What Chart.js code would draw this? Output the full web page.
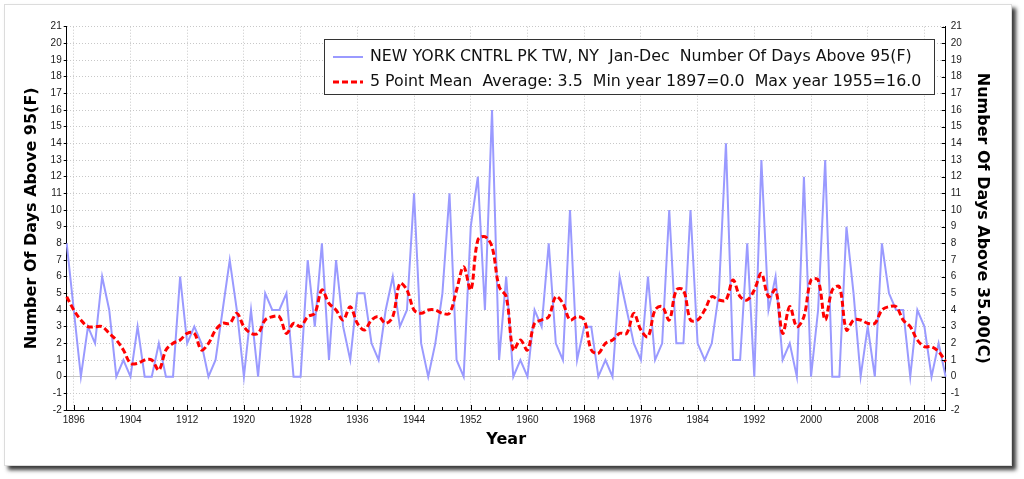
<!DOCTYPE html>
<html>
<head>
<meta charset="utf-8">
<title>NEW YORK CNTRL PK TW, NY - Days Above 95F</title>
<script src="https://cdn.jsdelivr.net/npm/chart.js@4.4.1/dist/chart.umd.min.js"></script>
<style>
  html, body { margin: 0; padding: 0; background: #fff; }
  body { width: 1024px; height: 479px; position: relative; overflow: hidden; }
  #panel {
    position: absolute; left: 4px; top: 4px; width: 1006px; height: 460px;
    background: #fff; border: 1px solid #dcdcdc;
    box-shadow: 4px 4px 4px #3a3a3a;
  }
  #wrap { position: absolute; left: 0; top: 0; width: 1024px; height: 479px; }
</style>
</head>
<body>
<div id="panel"></div>
<div id="wrap"><canvas id="chart"></canvas></div>
<script>
// data, one value per year starting at firstYear
const firstYear = 1895;

const daysAbove95 = [
  8, 4, 0, 3, 2, 6, 4, 0, 1, 0,        // 1895-1904
  3, 0, 0, 2, 0, 0, 6, 2, 3, 2,        // 1905-1914
  0, 1, 4, 7, 4, 0, 4, 0, 5, 4,        // 1915-1924
  4, 5, 0, 0, 7, 3, 8, 1, 7, 3,        // 1925-1934
  1, 5, 5, 2, 1, 4, 6, 3, 4, 11,       // 1935-1944
  2, 0, 2, 5, 11, 1, 0, 9, 12, 4,      // 1945-1954
  16, 1, 6, 0, 1, 0, 4, 3, 8, 2,       // 1955-1964
  1, 10, 1, 3, 3, 0, 1, 0, 6, 4,       // 1965-1974
  2, 1, 6, 1, 2, 10, 2, 2, 10, 2,      // 1975-1984
  1, 2, 5, 14, 1, 1, 8, 0, 13, 4,      // 1985-1994
  6, 1, 2, 0, 12, 0, 4, 13, 0, 0,      // 1995-2004
  9, 5, 0, 3, 0, 8, 5, 4, 4, 0,        // 2005-2014
  4, 3, 0, 2, 0                        // 2015-2019
];

const fivePointMean = [
  4.8, 4.0, 3.4, 3.0, 3.0, 3.0, 2.6, 2.2, 1.6, 0.8,   // 1895-1904
  0.8, 1.0, 1.0, 0.4, 1.6, 2.0, 2.2, 2.6, 2.6, 1.6,   // 1905-1914
  2.0, 2.8, 3.2, 3.2, 3.8, 3.0, 2.6, 2.6, 3.4, 3.6,   // 1915-1924
  3.6, 2.6, 3.2, 3.0, 3.6, 3.8, 5.2, 4.4, 4.0, 3.4,   // 1925-1934
  4.2, 3.2, 2.8, 3.4, 3.6, 3.2, 3.6, 5.6, 5.2, 4.0,   // 1935-1944
  3.8, 4.0, 4.0, 3.8, 3.8, 5.2, 6.6, 5.2, 8.2, 8.4,   // 1945-1954
  7.8, 5.4, 4.8, 1.6, 2.2, 1.6, 3.2, 3.4, 3.6, 4.8,   // 1955-1964
  4.4, 3.4, 3.6, 3.4, 1.6, 1.4, 2.0, 2.2, 2.6, 2.6,   // 1965-1974
  3.8, 2.8, 2.4, 4.0, 4.2, 3.4, 5.2, 5.2, 3.4, 3.4,   // 1975-1984
  4.0, 4.8, 4.6, 4.6, 5.8, 4.8, 4.6, 5.2, 6.2, 4.8,   // 1985-1994
  5.2, 2.6, 4.2, 3.0, 3.6, 5.8, 5.8, 3.4, 5.2, 5.4,   // 1995-2004
  2.8, 3.4, 3.4, 3.2, 3.2, 4.0, 4.2, 4.2, 3.4, 3.0,   // 2005-2014
  2.2, 1.8, 1.8, 1.5, 0.9                             // 2015-2019
];

const years = daysAbove95.map((_, i) => firstYear + i);

const seriesLabels = [
  'NEW YORK CNTRL PK TW, NY  Jan-Dec  Number Of Days Above 95(F)',
  '5 Point Mean  Average: 3.5  Min year 1897=0.0  Max year 1955=16.0'
];

const yMin = -2;
const yMax = 21;

const gridColor = '#c8c8c8';

// box legend in the upper right, like the original
const boxLegend = {
  id: 'boxLegend',
  afterDraw(chart) {
    const ctx = chart.ctx;
    ctx.save();
    ctx.fillStyle = '#fff';
    ctx.fillRect(324.5, 39.5, 610, 55);
    ctx.strokeStyle = '#333';
    ctx.lineWidth = 1;
    ctx.strokeRect(324.5, 39.5, 610, 55);
    ctx.font = '15.8px "DejaVu Sans"';
    ctx.textBaseline = 'middle';
    chart.data.datasets.forEach((ds, i) => {
      const y = 57 + i * 25;
      ctx.strokeStyle = ds.borderColor;
      ctx.lineWidth = ds.borderWidth;
      ctx.setLineDash(ds.borderDash || []);
      ctx.beginPath();
      ctx.moveTo(333, y);
      ctx.lineTo(363, y);
      ctx.stroke();
      ctx.setLineDash([]);
      ctx.fillStyle = '#111';
      ctx.fillText(ds.label, 370, y);
    });
    ctx.restore();
  }
};

// tick marks pointing into the plot (bottom and right axes)
const innerTicks = {
  id: 'innerTicks',
  afterDraw(chart) {
    const {ctx, chartArea, scales} = chart;
    ctx.save();
    ctx.strokeStyle = '#000';
    ctx.lineWidth = 1;
    years.forEach((yr, i) => {
      if (yr % 2) return;
      const x = Math.round(scales.x.getPixelForValue(i)) + 0.5;
      const len = yr % 8 === 0 ? 5 : 3;
      ctx.beginPath();
      ctx.moveTo(x, chartArea.bottom);
      ctx.lineTo(x, chartArea.bottom - len);
      ctx.stroke();
    });
    for (let v = yMin; v <= yMax; v++) {
      const y = Math.round(scales.y2.getPixelForValue(v)) + 0.5;
      ctx.beginPath();
      ctx.moveTo(chartArea.right, y);
      ctx.lineTo(chartArea.right - 4, y);
      ctx.stroke();
    }
    ctx.restore();
  }
};

const tickFont = { family: '"Liberation Sans"', size: 10 };
const titleFont = { family: '"DejaVu Sans"', size: 16, weight: 'bold' };

new Chart(document.getElementById('chart'), {
  type: 'line',
  data: {
    labels: years,
    datasets: [
      {
        label: seriesLabels[0],
        data: daysAbove95,
        borderColor: '#9a9aff',
        borderWidth: 2,
        pointRadius: 0,
        tension: 0,
        order: 1
      },
      {
        label: seriesLabels[1],
        data: fivePointMean,
        borderColor: '#ff0000',
        borderWidth: 3,
        borderDash: [6, 3],
        pointRadius: 0,
        tension: 0.35,
        order: 0
      }
    ]
  },
  options: {
    responsive: true,
    maintainAspectRatio: false,
    animation: false,
    layout: { padding: { top: 26.7, left: 0, right: 0, bottom: 0 } },
    plugins: {
      legend: { display: false },
      tooltip: { enabled: false }
    },
    scales: {
      x: {
        offset: false,
        afterFit: (s) => { s.height = 69; },
        ticks: {
          autoSkip: false,
          maxRotation: 0,
          padding: 4,
          color: '#1a1a1a',
          font: tickFont,
          callback: (v, i) => (years[i] % 8 === 0 ? String(years[i]) : '')
        },
        grid: {
          drawTicks: false,
          color: (c) => (c.index !== undefined && years[c.index] % 8 === 0 ? gridColor : 'rgba(0,0,0,0)')
        },
        border: { color: '#000', width: 1, dash: [1, 2] },
        title: {
          display: true,
          text: 'Year',
          color: '#000',
          font: titleFont,
          padding: { top: 0, bottom: 29.4 }
        }
      },
      y: {
        position: 'left',
        min: yMin,
        max: yMax,
        afterFit: (s) => { s.width = 66.7; },
        ticks: { stepSize: 1, padding: 2, color: '#1a1a1a', font: tickFont },
        grid: {
          color: (c) => (c.tick && c.tick.value === 0 ? '#c4c4c4' : gridColor),
          tickLength: 3,
          tickColor: '#000'
        },
        border: {
          color: '#000',
          width: 1,
          dash: (c) => (c.tick && c.tick.value === 0 ? [] : [1, 2])
        },
        title: {
          display: true,
          text: 'Number Of Days Above 95(F)',
          color: '#000',
          font: titleFont,
          padding: { top: 22.4, bottom: 0 }
        }
      },
      y2: {
        position: 'right',
        min: yMin,
        max: yMax,
        afterFit: (s) => { s.width = 78.3; },
        ticks: { stepSize: 1, padding: 5, color: '#1a1a1a', font: tickFont },
        grid: { drawOnChartArea: false, drawTicks: false },
        border: { color: '#000', width: 1 },
        title: {
          display: true,
          text: 'Number Of Days Above 35.00(C)',
          color: '#000',
          font: titleFont,
          padding: { top: 31.9, bottom: 0 }
        }
      }
    }
  },
  plugins: [boxLegend, innerTicks]
});
</script>
</body>
</html>
